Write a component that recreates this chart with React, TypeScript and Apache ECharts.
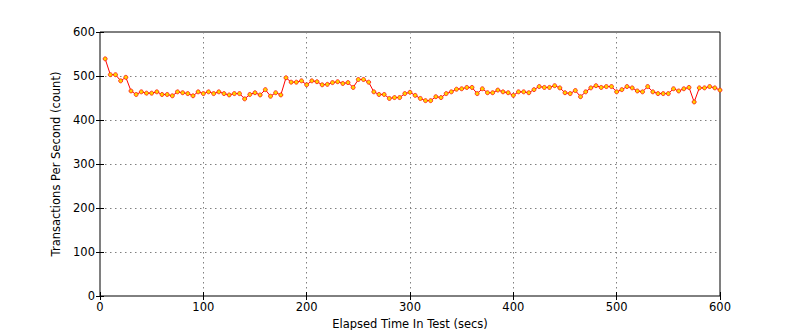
import React, { useEffect, useRef } from "react";
import * as echarts from "echarts";

const times: number[] = [
  5, 10, 15, 20, 25, 30, 35, 40, 45, 50, 55, 60, 65, 70, 75, 80, 85, 90, 95, 100,
  105, 110, 115, 120, 125, 130, 135, 140, 145, 150, 155, 160, 165, 170, 175, 180, 185, 190, 195, 200,
  205, 210, 215, 220, 225, 230, 235, 240, 245, 250, 255, 260, 265, 270, 275, 280, 285, 290, 295, 300,
  305, 310, 315, 320, 325, 330, 335, 340, 345, 350, 355, 360, 365, 370, 375, 380, 385, 390, 395, 400,
  405, 410, 415, 420, 425, 430, 435, 440, 445, 450, 455, 460, 465, 470, 475, 480, 485, 490, 495, 500,
  505, 510, 515, 520, 525, 530, 535, 540, 545, 550, 555, 560, 565, 570, 575, 580, 585, 590, 595, 600,
];

const tps: number[] = [
  539, 503, 503, 489, 497, 466, 458, 464, 461, 461, 464, 458, 458, 455, 464, 462, 460, 455, 464, 460,
  464, 460, 464, 460, 457, 460, 460, 448, 458, 462, 457, 469, 454, 462, 457, 496, 486, 486, 489, 480,
  489, 487, 480, 481, 485, 487, 483, 485, 474, 492, 492, 486, 464, 458, 458, 449, 451, 451, 460, 463,
  456, 449, 444, 444, 453, 451, 460, 464, 470, 471, 474, 474, 460, 471, 462, 462, 468, 464, 462, 456,
  464, 464, 462, 469, 476, 474, 474, 478, 473, 462, 460, 467, 453, 464, 473, 478, 474, 476, 476, 464,
  469, 476, 473, 466, 464, 476, 464, 460, 460, 460, 471, 466, 471, 474, 441, 473, 473, 476, 473, 468,
];

const xTitle = "Elapsed Time In Test (secs)";
const yTitle = "Transactions Per Second (count)";

const FONT = "DejaVu Sans";

export default function App() {
  const ref = useRef<HTMLDivElement>(null);

  useEffect(() => {
    document.body.style.margin = "0";
    if (!ref.current) return;
    const chart = echarts.init(ref.current, undefined, { renderer: "svg" });
    const tickLabel = { color: "#000", fontFamily: FONT, fontSize: 11.5 };
    const grid = { show: true, type: [1.5, 3.5] as any, color: "#808080", width: 1 };
    const hiddenAxisCommon = {
      axisLine: { show: false },
      axisTick: { show: true, inside: true, length: 4, lineStyle: { color: "#000", width: 1 } },
      axisLabel: { show: false },
      splitLine: { show: false },
    };
    chart.setOption({
      animation: false,
      backgroundColor: "#fff",
      textStyle: { fontFamily: FONT },
      grid: {
        left: 100,
        top: 32,
        width: 620,
        height: 264,
        outerBoundsMode: "none",
        containLabel: false,
        show: true,
        borderColor: "#000",
        borderWidth: 1,
        backgroundColor: "transparent",
      },
      xAxis: [
        {
          type: "value",
          position: "bottom",
          min: 0,
          max: 600,
          interval: 100,
          name: xTitle,
          nameLocation: "middle",
          nameGap: 19,
          nameTextStyle: { color: "#000", fontFamily: FONT, fontSize: 11.5 },
          axisLine: { show: false },
          axisTick: { show: true, inside: true, length: 4, lineStyle: { color: "#000", width: 1 } },
          axisLabel: { ...tickLabel, margin: 5 },
          splitLine: { show: true, lineStyle: grid },
        },
        {
          type: "value",
          position: "top",
          min: 0,
          max: 600,
          interval: 100,
          ...hiddenAxisCommon,
        },
      ],
      yAxis: [
        {
          type: "value",
          position: "left",
          min: 0,
          max: 600,
          interval: 100,
          name: yTitle,
          nameLocation: "middle",
          nameGap: 37,
          nameRotate: 90,
          nameTextStyle: { color: "#000", fontFamily: FONT, fontSize: 11.5 },
          axisLine: { show: false },
          axisTick: { show: true, inside: true, length: 4, lineStyle: { color: "#000", width: 1 } },
          axisLabel: { ...tickLabel, margin: 5 },
          splitLine: { show: true, lineStyle: grid },
        },
        {
          type: "value",
          position: "right",
          min: 0,
          max: 600,
          interval: 100,
          ...hiddenAxisCommon,
        },
      ],
      series: [
        {
          type: "line",
          xAxisIndex: 0,
          yAxisIndex: 0,
          data: times.map((t, i) => [t, tps[i]]),
          symbol: "circle",
          symbolSize: 4,
          showSymbol: true,
          clip: false,
          lineStyle: { color: "#ff0000", width: 1 },
          itemStyle: { color: "#ffd400", borderColor: "#ff1010", borderWidth: 0.8 },
          emphasis: { disabled: true },
        },
      ],
    });
    return () => chart.dispose();
  }, []);

  return <div ref={ref} style={{ width: 800, height: 330 }} />;
}
